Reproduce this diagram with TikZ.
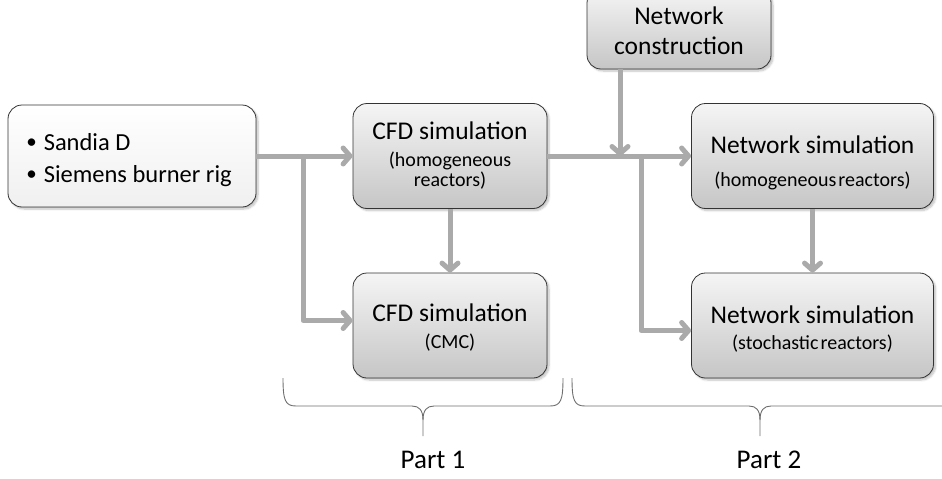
\documentclass[tikz,border=0pt]{standalone}
\usepackage{fontspec}
\setmainfont{Carlito}
\usetikzlibrary{arrows.meta,shadows.blur}
\definecolor{arrgray}{RGB}{170,170,170}
\definecolor{bracegray}{RGB}{110,110,110}
\tikzset{
  box/.style={draw=black!80, line width=0.8pt, rounded corners=14pt, align=center,
    top color=gray!8, bottom color=gray!45, inner sep=0pt,
    font=\fontsize{20}{20}\selectfont,
    blur shadow={shadow xshift=2pt, shadow yshift=-2pt, shadow opacity=25, shadow blur steps=6}},
  srcbox/.style={box, top color=white, bottom color=gray!12},
  arr/.style={draw=arrgray, line width=5pt, line join=round,
    -{Straight Barb[length=7pt,width=16pt,round]}},
  brace/.style={draw=bracegray, line width=0.9pt},
  partlbl/.style={font=\fontsize{27}{30}\selectfont},
}
\newcommand{\maintxt}[1]{{\fontsize{25.5}{26}\selectfont #1}}
\newcommand{\bul}{\raisebox{1.5pt}{\fontsize{21}{21}\selectfont •}\hspace{7pt}}
\begin{document}
\begin{tikzpicture}[x=1pt,y=-1pt]
\useasboundingbox (0,0) rectangle (942,479);
\begin{scope}
\clip (0,0) rectangle (942,479);
% boxes
\node[srcbox, minimum width=248pt, minimum height=102pt] (src) at (132,156) {};
\node[align=left, font=\fontsize{24.5}{32}\selectfont] (srctxt) at (129,160)
  {\bul Sandia D\\\bul Siemens burner rig};
\node[box, minimum width=194pt, minimum height=105pt] (cfdh) at (450,156)
  {\maintxt{CFD simulation}\\[7pt](homogeneous\\reactors)};
\node[box, minimum width=194pt, minimum height=105pt] (cmc) at (450,325.5)
  {\maintxt{\rule{0pt}{22pt}CFD simulation}\\[7pt](CMC)};
\node[box, minimum width=184pt, minimum height=80pt, font=\fontsize{25.5}{30}\selectfont] (netc) at (679,29)
  {\rule{0pt}{22pt}Network\\construction};
\node[box, minimum width=242pt, minimum height=105pt] (neth) at (812.5,156)
  {\maintxt{\rule{0pt}{32pt}Network simulation}\\[13pt](homogeneous\hspace{2pt}reactors)};
\node[box, minimum width=242pt, minimum height=105pt] (nets) at (812.5,325.5)
  {\maintxt{\rule{0pt}{25pt}Network simulation}\\[6pt](stochastic\hspace{2pt}reactors)};
\end{scope}
% junction coordinates
\coordinate (j1) at (303,156);
\coordinate (j2) at (620,156);
\coordinate (j3) at (641,156);
% connectors
\draw[arr] (src.east) -- (cfdh.west);
\draw[arr] (j1) |- ([yshift=5pt]cmc.west);
\draw[arr] (cfdh.south) -- (cmc.north);
\draw[arr] (cfdh.east) -- (neth.west);
\draw[arr] (j2 |- netc.south) -- (j2);
\draw[arr] ([yshift=-2.5pt]j3) |- ([yshift=-5pt]nets.west);
\draw[arr] (neth.south) -- (nets.north);
% braces
\coordinate (b1l) at (283,378);
\coordinate (b1t) at (423,436);
\coordinate (b1r) at (563,378);
\draw[brace] (b1l) .. controls (283,400) and (285,406) .. (296,406) -- (412,406)
  .. controls (419,406) and (423,410) .. (423,420) -- (b1t);
\draw[brace] (b1r) .. controls (563,400) and (561,406) .. (550,406) -- (434,406)
  .. controls (427,406) and (423,410) .. (423,420);
\coordinate (b2l) at (572,378);
\coordinate (b2t) at (760,436);
\draw[brace] (b2l) .. controls (572,400) and (574,406) .. (585,406) -- (749,406)
  .. controls (756,406) and (760,410) .. (760,420) -- (b2t);
\draw[brace] (760,420) .. controls (760,410) and (764,406) .. (771,406) -- (942,406);
% labels
\node[partlbl] (p1) at (433,460) {Part 1};
\node[partlbl] (p2) at (769,460) {Part 2};
\end{tikzpicture}
\end{document}
